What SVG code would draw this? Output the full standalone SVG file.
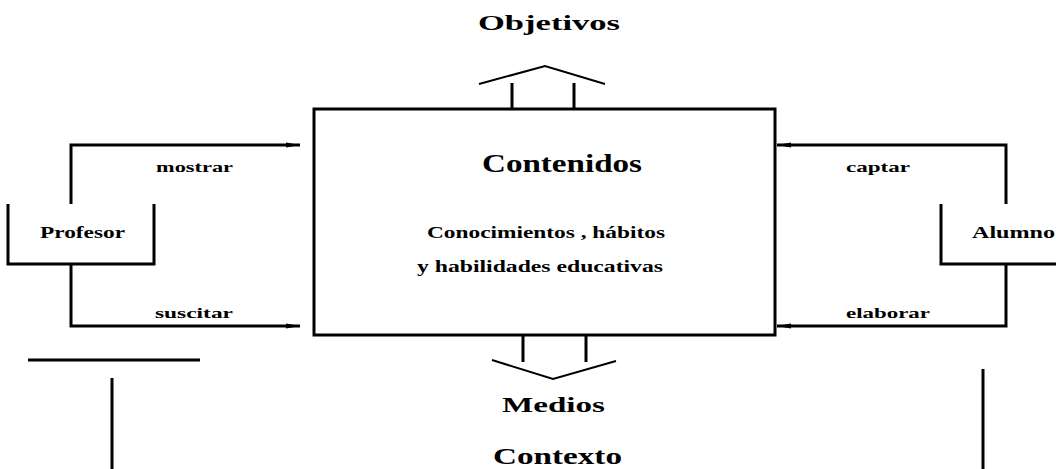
<svg xmlns="http://www.w3.org/2000/svg" width="1056" height="469" viewBox="0 0 1056 469">
<style>
.ln{fill:none;stroke:#000;stroke-width:3}
.thin{fill:none;stroke:#000;stroke-width:2}
.t{font-family:"Liberation Serif",serif;font-weight:bold;fill:#000}
</style>
<defs>
<marker id="ar" viewBox="0 0 14 7" refX="14" refY="3.5" markerWidth="14" markerHeight="7" markerUnits="userSpaceOnUse" orient="auto">
<path d="M0,1 L14,3.5 L0,6 z" fill="#000"/>
</marker>
</defs>
<rect width="1056" height="469" fill="#fff"/>
<g id="contenidos">
<rect x="314" y="109" width="461" height="226" class="ln"/>
<text class="t" x="482" y="172" font-size="25" textLength="160" lengthAdjust="spacingAndGlyphs">Contenidos</text>
<text class="t" x="427" y="238" font-size="17" textLength="238" lengthAdjust="spacingAndGlyphs">Conocimientos , hábitos</text>
<text class="t" x="417" y="272" font-size="17" textLength="246" lengthAdjust="spacingAndGlyphs">y habilidades educativas</text>
</g>
<g id="objetivos">
<text class="t" x="478" y="30" font-size="22" textLength="142" lengthAdjust="spacingAndGlyphs">Objetivos</text>
</g>
<g id="medios">
<text class="t" x="502" y="412" font-size="22" textLength="103" lengthAdjust="spacingAndGlyphs">Medios</text>
</g>
<g id="contexto">
<text class="t" x="493" y="464" font-size="23" textLength="129" lengthAdjust="spacingAndGlyphs">Contexto</text>
<line x1="28" y1="360" x2="200" y2="360" class="ln"/>
<line x1="112" y1="378" x2="112" y2="469" class="ln"/>
<line x1="983" y1="369" x2="983" y2="469" class="ln"/>
</g>
<g id="profesor">
<polyline points="8,204 8,264 154,264 154,204" class="ln"/>
<text class="t" x="40" y="238" font-size="16" textLength="85" lengthAdjust="spacingAndGlyphs">Profesor</text>
</g>
<g id="alumno">
<polyline points="941,204 941,264 1056,264" class="ln"/>
<text class="t" x="972" y="238" font-size="16" textLength="83" lengthAdjust="spacingAndGlyphs">Alumno</text>
</g>
<g id="connectors">
<polyline points="71,204 71,145 300,145" class="ln" marker-end="url(#ar)"/>
<polyline points="71,264 71,326 300,326" class="ln" marker-end="url(#ar)"/>
<polyline points="1006,204 1006,145 777,145" class="ln" marker-end="url(#ar)"/>
<polyline points="1006,264 1006,326 777,326" class="ln" marker-end="url(#ar)"/>
<text class="t" x="156" y="172" font-size="15" textLength="77" lengthAdjust="spacingAndGlyphs">mostrar</text>
<text class="t" x="155" y="318" font-size="15" textLength="78" lengthAdjust="spacingAndGlyphs">suscitar</text>
<text class="t" x="846" y="172" font-size="15" textLength="64" lengthAdjust="spacingAndGlyphs">captar</text>
<text class="t" x="846" y="318" font-size="15" textLength="84" lengthAdjust="spacingAndGlyphs">elaborar</text>
<line x1="512" y1="83" x2="512" y2="108" class="ln"/>
<line x1="574" y1="83" x2="574" y2="108" class="ln"/>
<polyline points="479,84 545,66 605,84" class="thin"/>
<line x1="523" y1="336" x2="523" y2="362" class="ln"/>
<line x1="586" y1="336" x2="586" y2="362" class="ln"/>
<polyline points="492,360 553,379 616,361" class="thin"/>
</g>
</svg>
